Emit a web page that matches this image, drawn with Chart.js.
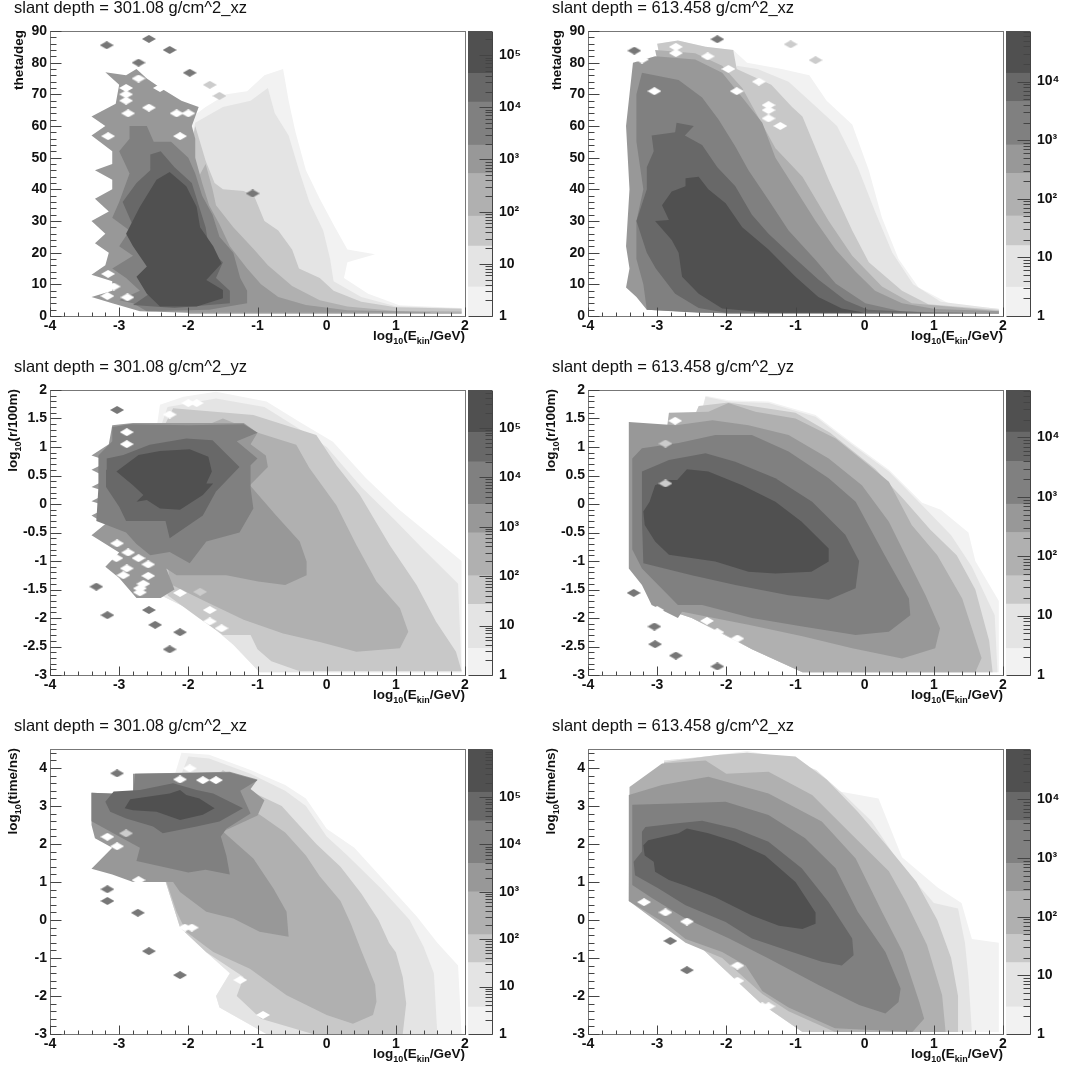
<!DOCTYPE html>
<html>
<head>
<meta charset="utf-8">
<title>slant depth</title>
<script src="https://cdn.jsdelivr.net/npm/chart.js@4"></script>
<style>
  body { margin: 0; background: #fff; width: 1065px; height: 1072px; overflow: hidden; position: relative; }
  canvas { position: absolute; filter: blur(0.6px); }
</style>
</head>
<body>
<script>
const bandColors = ['#f2f2f2', '#e4e4e4', '#c8c8c8', '#b0b0b0', '#989898', '#808080', '#686868', '#505050'];
const xTicks = [-4, -3, -2, -1, 0, 1, 2];
const thetaTicks = [0, 10, 20, 30, 40, 50, 60, 70, 80, 90];
const radiusTicks = [-3, -2.5, -2, -1.5, -1, -0.5, 0, 0.5, 1, 1.5, 2];
const timeTicks = [-3, -2, -1, 0, 1, 2, 3, 4];
const zTicks = [1, 10, 100, 1000, 10000, 100000];
const zLabels = ['1', '10', '10²', '10³', '10⁴', '10⁵'];

const titles = ['slant depth = 301.08 g/cm^2_xz', 'slant depth = 613.458 g/cm^2_xz', 'slant depth = 301.08 g/cm^2_yz',
  'slant depth = 613.458 g/cm^2_yz', 'slant depth = 301.08 g/cm^2_xz', 'slant depth = 613.458 g/cm^2_xz'];

// colour bar band edges
const z1 = [1, 3.6, 22, 82, 537, 1880, 12600, 44700, 290000];
const z2 = [1, 3.1, 15.9, 51, 272, 830, 4570, 13900, 73000];
const z3 = [1, 3.46, 27, 102, 753, 2820, 20500, 80500, 580000];
const z4 = [1, 2.8, 15.7, 47, 251, 752, 3980, 12300, 63000];
const z5 = [1, 3.7, 32, 125, 1000, 3970, 31600, 126000, 1030000];
const z6 = [1, 2.9, 16.5, 50, 270, 810, 4370, 13200, 72500];

// contours, x,y pairs, lightest band first
const p1b1 = [-0.63,78,-0.9,76,-1.15,71,-1.45,70,-1.75,66,-2,62,-2.2,30,-2,1,1.95,0.8,1.95,2.5,1.05,3.4,0.6,7,0.25,12,0.3,17,0.7,19.5,0.3,21,0.12,28,-0.1,37,-0.3,46,-0.45,58,-0.55,68];
const p1b2 = [-0.85,72,-1.1,68,-1.5,66,-1.9,61,-2.2,30,-2,1,1.95,0.9,1.95,2.4,1,3.1,0.5,6,0.1,11,0.05,18,-0.05,27,-0.25,36,-0.4,46,-0.55,57,-0.75,64];
const p1b3 = [-1.9,60,-1.75,49,-1.62,42,-1.5,40,-1.2,39.5,-1.05,38,-0.9,30,-0.7,27,-0.5,21,-0.4,15,-0.1,12,0.1,8,0.5,4.5,1,2.8,1.95,2.3,1.95,0.8,-2,0.8,-2.2,30];
const p1b4 = [-1.75,48,-1.65,40,-1.6,35,-1.35,28,-1.05,21,-0.85,16,-0.5,9.5,-0.1,5,0.3,3,1,1.6,1.95,1.4,1.95,0.7,-2,0.7,-2.2,30];
const p1b5 = [-3.2,77,-3,73,-3.05,67,-3.4,63,-3.2,60,-3.4,57,-3.1,52,-3.1,48,-3.35,46,-3.1,43,-3.1,40,-3.35,37,-3.15,33,-3.4,30,-3.2,26,-3.35,23,-3.15,20,-3.2,16,-3.4,13,-3.1,11,-3.1,8,-3.4,6,-3.1,4,-2.7,1.5,-2,1,1.5,1,1.5,1.2,0.3,1.8,-0.3,3.5,-0.7,6,-0.95,10,-1.15,15,-1.4,22,-1.55,29,-1.7,35,-1.8,42,-1.9,50,-1.9,56,-1.95,60,-1.85,66,-2.1,68,-2.4,72,-2.6,75,-2.75,78,-2.9,76];
const p1b6 = [-2.85,60,-2.6,60,-2.5,55,-2.25,55,-2,50,-1.9,45,-1.8,38,-1.65,32,-1.55,25,-1.35,20,-1.25,12,-1.15,8,-1.15,4,-1.7,2,-2.6,1.5,-2.8,4,-3,5,-2.7,8,-2.9,12,-3.1,15,-2.8,19,-3,22,-2.85,27,-3.1,31,-3,36,-2.85,45,-3,52,-2.85,56];
const p1b7 = [-2.95,36,-2.75,42,-2.55,46,-2.55,51,-2.4,52,-2.2,47,-1.95,42,-1.85,35,-1.75,28,-1.7,21,-1.5,17,-1.6,12,-1.4,8,-1.4,4,-2.2,2.5,-2.8,3.5,-2.5,8,-2.45,15,-2.6,22,-2.75,26];
const p1b8 = [-2.84,35.6,-2.7,34.5,-2.46,43,-2.27,45.5,-2.03,41,-1.88,34.5,-1.83,28,-1.64,22,-1.52,16.6,-1.74,11.4,-1.5,8.2,-1.5,5.6,-1.88,3,-2.41,3,-2.6,7,-2.75,12.4,-2.6,15.6,-2.8,22,-2.9,26,-2.7,34.5];
const p1Spots = [-3.18,85.5,-2.57,87.5,-2.27,84,-2.72,80,-1.98,76.8,-1.07,38.7];
const p1Pale = [-1.69,73,-1.55,69.5];
const p1Holes = [-2.72,75,-2.9,72,-2.9,70,-2.9,68,-2.41,72,-2.87,64,-2.57,65.8,-3.16,56.8,-2.12,56.8,-2.17,64,-2,64,-3.16,13.3,-3.17,6.3,-3.08,9.3,-2.88,5.9];

const p2b1 = [-3,86,-2.7,87,-2.3,85,-1.9,84,-1.7,80,-1.2,78,-0.8,76,-0.55,68,-0.18,60.5,0.06,46,0.25,31,0.49,18,0.78,9,1.26,3.5,1.94,2.4,1.94,0.8,-2,0.8,-2.5,30];
const p2b2 = [-1.85,79,-1.55,78,-1.1,74,-0.75,67,-0.4,60,-0.1,47,0.15,33,0.4,20,0.7,10,1.1,4.5,1.94,2.2,1.94,0.8,-2,0.8,-2.5,30];
const p2b3 = [-3,86,-2.7,87,-2.3,85,-1.9,84,-1.85,78,-1.35,73,-1.05,66,-0.9,63,-0.52,43,-0.18,27,0.06,17,0.54,8,0.92,3.7,1.94,1.9,1.94,0.8,-2,0.8,-2.5,30];
const p2b4 = [-3.03,84,-2.45,83,-2.06,79,-1.77,72,-1.29,53,-0.9,44,-0.52,30,-0.18,19,0.25,9.3,0.68,4,1.94,1.5,1.94,0.7,-2,0.7,-2.5,30];
const p2b5 = [-3.35,80,-3.03,82,-2.45,81,-2.06,76.8,-1.77,69,-1.48,61,-1.29,50,-1,40,-0.71,30,-0.42,21,-0.13,14,0.15,8,0.54,4,1.02,2.2,1.94,1.5,1.94,0.7,-2,0.8,-3.15,2,-3.3,6,-3.45,9,-3.4,15,-3.45,22,-3.4,40,-3.45,60,-3.4,70];
const p2b6 = [-3.22,76.8,-2.69,74.5,-2.35,69,-2.11,62,-1.87,53.5,-1.68,46,-1.39,36.6,-1.1,27,-0.71,17.7,-0.42,10.3,0.01,4,0.54,1.4,1.4,1.1,1.4,0.9,-2.4,1,-3.15,2,-3.2,10,-3.3,18,-3.3,30,-3.2,40,-3.3,55,-3.3,70];
const p2b7 = [-3.08,57,-2.74,58,-2.72,61,-2.47,60,-2.6,57,-2.35,54,-2.13,47,-1.87,41,-1.63,32,-1.39,26,-1.05,19,-0.67,11.5,-0.28,5,0.05,2,1,1,-2,1,-2.4,2.5,-2.74,7,-3.02,15,-3.15,20,-3.3,30,-3.15,40,-3.15,47,-3.05,52];
const p2b8 = [-2.93,35,-2.79,39.3,-2.59,41,-2.59,43.5,-2.4,44,-2.26,40,-2.01,35.6,-1.77,28,-1.39,21,-1,12.4,-0.67,6,-0.33,2.4,0,1,-1.39,1,-2.06,2.4,-2.4,7,-2.64,12.4,-2.69,20,-2.79,24,-3.03,30,-2.83,30.3];
const p2Spots = [-3.33,83.8,-2.13,87.4];
const p2Pale = [-0.71,80.8,-1.07,85.8];
const p2Holes = [-2.73,85,-2.73,83,-2.27,82,-1.97,78,-1.85,71,-3.04,71,-1.39,66.6,-1.39,65,-1.53,74,-1.22,60,-1.39,62.4,-3.22,81];

const p3b1 = [-2.41,1.74,-2.07,1.88,-1.6,1.97,-0.87,1.8,-0.39,1.44,0.09,1.09,0.57,0.45,1.05,-0.1,1.5,-0.55,1.95,-1,1.95,-2.95,-0.97,-2.95,-1.35,-2.47,-1.9,-1.9,-2.4,-1.6,-2.5,1];
const p3b2 = [-2.3,1.7,-1.6,1.85,-0.9,1.7,-0.45,1.36,0,1,0.5,0.3,1,-0.3,1.4,-0.8,1.9,-1.4,1.95,-2.95,-0.97,-2.95,-1.35,-2.47,-1.9,-1.9,-2.4,-1.6,-2.5,1];
const p3b3 = [-2.22,1.68,-1.06,1.56,-0.15,1.21,0.14,0.68,0.48,0.16,0.91,-0.72,1.3,-1.42,1.58,-2.06,1.87,-2.59,1.95,-2.93,-0.4,-2.93,-0.8,-2.76,-1,-2.55,-1.1,-2.3,-1.5,-2.3,-1.85,-2,-2.3,-1.6,-2.5,1];
const p3b4 = [-0.97,1.24,-0.44,1.04,-0.25,0.63,0.14,-0.02,0.43,-0.72,0.72,-1.36,1.06,-1.83,1.18,-2.24,1.06,-2.53,0.43,-2.59,-0.1,-2.42,-0.63,-2.27,-1.2,-2.03,-1.79,-1.69,-2.27,-1.4,-2.3,-1,-2.5,1,-1.5,1.5];
const p3b5 = [-3.1,1.38,-2.8,1.42,-1.2,1.42,-1,1.25,-1.1,1.05,-0.88,0.85,-0.85,0.65,-1.11,0.33,-0.73,-0.2,-0.39,-0.66,-0.29,-1.01,-0.29,-1.25,-0.6,-1.42,-0.99,-1.36,-1.45,-1.25,-2.17,-1.25,-2.32,-1.13,-2.2,-1.5,-2.4,-1.65,-2.75,-1.65,-3,-1.3,-3.2,-1.1,-3,-0.85,-3.4,-0.55,-3.2,-0.35,-3.4,-0.2,-3.15,-0.05,-3.4,0.05,-3.15,0.2,-3.4,0.3,-3.15,0.45,-3.4,0.6,-3.15,0.75,-3.4,0.85,-3.15,1.05];
const p3b6 = [-3.3,0.85,-3.1,1.1,-3.1,1.35,-2.85,1.4,-2,1.38,-1.2,1.4,-1,1.25,-1.3,1.1,-1,0.8,-1.1,0.68,-1.1,0.28,-1.06,-0.08,-1.26,-0.5,-1.74,-0.66,-1.98,-1.04,-2.27,-0.84,-2.55,-0.9,-2.75,-0.7,-2.9,-0.5,-3.33,-0.3,-3.3,0.3];
const p3b7 = [-3.19,0.6,-3.18,0.8,-2.94,0.86,-2.56,1.04,-2.03,1.15,-1.65,1.12,-1.26,0.65,-1.6,0.22,-1.79,-0.2,-2.27,-0.6,-2.33,-0.3,-2.7,-0.3,-2.9,-0.3,-3,-0.05,-3.19,0.3];
const p3b8 = [-3.04,0.57,-2.72,0.86,-2.41,0.93,-1.98,0.96,-1.71,0.83,-1.66,0.57,-1.74,0.36,-1.64,0.36,-1.79,0.16,-2.12,-0.1,-2.41,-0.08,-2.6,0.07,-2.75,0.04,-2.65,0.16,-2.8,0.33];
const p3Spots = [-3.03,1.65,-3.33,-1.45,-3.17,-1.95,-2.57,-1.86,-2.48,-2.12,-2.12,-2.25,-2.27,-2.55];
const p3Pale = [-1.83,-1.54];
const p3Holes = [-2.27,1.57,-2.89,1.26,-2.89,1.05,-3.03,-0.69,-3.04,-0.95,-2.87,-0.85,-2.72,-0.95,-2.58,-1.06,-2.89,-1.13,-2.94,-1.25,-2.58,-1.26,-2.7,-1.48,-2.65,-1.4,-2.7,-1.55,-2.12,-1.56,-1.69,-1.86,-1.69,-2.06,-1.52,-2.18,-1.88,1.77,-2,1.77];

const p4b1 = [-2.3,1.9,-1.97,1.82,-1.39,1.8,-0.71,1.56,-0.18,1.07,0.35,0.6,0.83,0.02,1.1,-0.1,1.5,-0.5,1.6,-1,1.94,-1.7,1.94,-2.95,-0.9,-2.95,-1.63,-2.55,-2.5,-2,-2.7,0];
const p4b2 = [-2.3,1.88,-1.97,1.8,-1.39,1.77,-0.71,1.53,-0.18,1.04,0.35,0.57,0.83,-0.02,1.25,-0.55,1.55,-1.1,1.88,-1.95,1.92,-2.95,-0.9,-2.95,-1.63,-2.55,-2.5,-2,-2.7,0];
const p4b3 = [-2.4,1.72,-1.97,1.78,-1,1.6,-0.5,1.25,0.15,0.62,0.55,0.1,0.95,-0.45,1.33,-0.9,1.6,-1.5,1.8,-2.4,1.85,-2.95,-0.9,-2.95,-1.63,-2.55,-2.5,-2,-3,-1.8,-3,0];
const p4b4 = [-2.83,1.6,-2.26,1.62,-1.97,1.77,-1.58,1.62,-1,1.5,-0.42,1.15,0.06,0.68,0.35,0.39,0.68,-0.37,1.05,-0.9,1.41,-1.66,1.69,-2.7,1.6,-2.95,-0.9,-2.95,-1.63,-2.55,-2.06,-2.26,-2.5,-2,-3,-1.8,-3,0];
const p4b5 = [-3.41,1.44,-2.73,1.38,-2.2,1.47,-1.68,1.38,-1.1,1.21,-0.52,0.8,-0.04,0.33,0.35,-0.31,0.59,-0.9,0.88,-1.6,1.09,-2.18,1.02,-2.53,0.54,-2.71,-0.18,-2.53,-0.9,-2.32,-1.68,-2.12,-2.64,-1.89,-2.7,-2,-3.08,-1.77,-3.22,-1.42,-3.41,-1.13,-3.41,0.8];
const p4b6 = [-3.36,0.8,-3.22,0.98,-2.69,1.07,-2.16,1.21,-1.63,1.21,-1.1,0.92,-0.52,0.45,-0.13,0.04,0.29,-0.9,0.64,-1.66,0.66,-1.95,0.35,-2.24,-0.13,-2.3,-0.9,-2.15,-1.63,-2,-2.35,-1.77,-2.7,-1.77,-3.22,-1.13,-3.36,-0.8];
const p4b7 = [-3.22,0.57,-2.83,0.77,-2.3,0.89,-1.87,0.74,-1.29,0.45,-0.76,0.04,-0.28,-0.54,-0.08,-1,-0.13,-1.48,-0.52,-1.68,-1.1,-1.6,-1.87,-1.42,-2.5,-1.25,-3.2,-1.04,-3.22,-0.3];
const p4b8 = [-3.03,0.33,-2.83,0.42,-2.71,0.42,-2.57,0.61,-2.26,0.57,-1.77,0.33,-1.29,0.04,-0.91,-0.31,-0.52,-0.78,-0.52,-1.01,-0.77,-1.19,-1.29,-1.22,-1.68,-1.19,-2.16,-1.01,-2.83,-0.89,-3.03,-0.66,-3.18,-0.37,-3.2,-0.13,-3.11,0.04];
const p4Spots = [-3.34,-1.56,-3.04,-2.15,-3.03,-2.46,-2.73,-2.66,-2.13,-2.85];
const p4Pale = [-2.88,1.06,-2.88,0.36];
const p4Holes = [-2.74,1.46,-3,-1.86,-2.28,-2.05,-2.13,-2.25,-1.84,-2.36,-1.51,-2.75,-2.59,-2.09,-2.5,-2.09];

const p5b1 = [-2.1,4.4,-1.7,4.35,-1.1,3.95,-0.6,3.55,-0.3,3.2,0,2.4,0.4,1.9,0.9,0.9,1.3,0.1,1.6,-0.6,1.9,-1.2,1.95,-3,-0.87,-3,-1.55,-2.3,-1.6,-2,-1.4,-1.4,-1.74,-0.85,-2.12,-0.2,-2.5,2];
const p5b2 = [-2,4.3,-1.7,4.25,-1.1,3.85,-0.6,3.4,-0.3,3,0,2.2,0.3,1.7,0.8,0.8,1.2,0,1.4,-0.7,1.55,-1.4,1.6,-3,-0.87,-3,-1.55,-2.3,-1.6,-2,-1.4,-1.4,-1.74,-0.85,-2.12,-0.2,-2.5,2];
const p5b3 = [-1.5,3.95,-1,3.3,-0.65,3,-0.45,2.6,-0.15,2,0.2,1.4,0.5,0.7,0.75,0,0.9,-0.6,1,-0.85,1.1,-1.5,1.15,-2.2,1.1,-3,-0.2,-3,-0.95,-2.6,-1.3,-2,-1.2,-1.5,-1.74,-0.85,-2.12,-0.2,-2.5,2];
const p5b4 = [-1.4,3.3,-0.95,2.75,-0.6,2.3,-0.3,1.7,-0.1,1.15,0.2,0.5,0.35,-0.1,0.5,-0.8,0.7,-1.7,0.72,-2.15,0.67,-2.5,0.38,-2.73,0,-2.5,-0.58,-1.98,-1.11,-1.28,-1.64,-0.84,-2.03,-0.31,-2.17,0.22,-2.5,2];
const p5b5 = [-2.8,3.85,-1.4,3.9,-1,3.7,-1.1,3.45,-0.9,3.15,-1,2.75,-1.5,2.33,-1.06,1.62,-0.77,0.83,-0.58,0.22,-0.55,-0.44,-0.97,-0.31,-1.35,0.04,-1.74,0.22,-2.12,0.74,-2.22,1,-2.8,1,-3.1,1.2,-3.4,1.35,-3.1,1.9,-3.35,2.15,-3.4,2.5,-3.4,3.35,-2.8,3.3];
const p5b6 = [-2.77,3.85,-1.4,3.88,-1,3.68,-1.25,3.4,-1.1,2.8,-1.45,2.4,-1.53,2.2,-1.45,1.7,-1.4,1.2,-1.75,1.32,-2,1.25,-2.75,1.55,-2.7,1.9,-2.9,2.1,-3.4,2.6,-3.4,3.35,-2.8,3.3];
const p5b7 = [-3.2,3.11,-3.08,3.38,-2.7,3.42,-2.22,3.6,-1.88,3.42,-1.64,3.33,-1.21,2.94,-1.55,2.59,-1.88,2.46,-2.37,2.28,-2.51,2.46,-2.9,2.67,-3.13,2.85];
const p5b8 = [-2.92,2.94,-2.84,3.18,-2.27,3.33,-2.12,3.42,-2.03,3.29,-1.84,3.2,-1.62,2.94,-1.79,2.77,-2.12,2.63,-2.46,2.85,-2.8,2.89];
const p5Spots = [-3.03,3.86,-3.17,0.81,-3.17,0.5,-2.73,0.19,-2.57,-0.82,-2.12,-1.45];
const p5Pale = [-2.9,2.28];
const p5Holes = [-3.17,2.19,-3.03,1.94,-2.72,1.05,-1.95,-0.2,-2.05,-0.2,-1.25,-1.58,-0.92,-2.5,-2.12,3.7,-1.79,3.68,-1.6,3.68,-1.98,3.99];

const p6b1 = [-2.9,4.2,-2.3,4.3,-1.7,4.45,-1.39,4.35,-0.9,4.05,-0.42,3.4,0.2,3.2,0.54,1.65,1.06,0.85,1.4,0.45,1.55,-0.5,1.94,-0.6,1.94,-2.95,-0.9,-2.95,-1.5,-2.2,-2.5,-0.5,-3,2];
const p6b2 = [-2.9,4.2,-2.3,4.3,-1.7,4.4,-1.2,4.3,-0.7,3.95,-0.3,3.3,0.1,2.6,0.5,1.5,1,0.45,1.35,0.3,1.45,-0.6,1.5,-1.5,1.55,-2.95,-0.9,-2.95,-1.5,-2.2,-2.5,-0.5,-3,2];
const p6b3 = [-2.9,4.15,-2.3,4.3,-2.1,4.35,-1.7,4.4,-1,4.3,-0.55,3.7,-0.1,2.85,0.3,2,0.75,1,1.05,0,1.25,-1,1.35,-2,1.35,-2.95,-0.9,-2.95,-1.5,-2.2,-2.5,-0.5,-3,2];
const p6b4 = [-3.4,3.5,-2.93,4.12,-2.3,4.2,-2,3.85,-1.39,3.9,-0.76,3.29,-0.18,2.24,0.35,1.28,0.6,0.47,0.9,-0.65,1.12,-1.98,1.17,-2.95,-0.43,-2.95,-1.1,-2.4,-1.48,-1.95,-2.06,-1,-2.59,-0.6,-3.41,0.5];
const p6b5 = [-3.41,3.29,-2.93,3.55,-2.26,3.77,-1.39,3.33,-0.62,2.59,-0.13,1.62,0.25,0.22,0.55,-0.84,0.79,-2.16,0.86,-2.6,0.69,-2.95,-0.43,-2.85,-1.1,-2.3,-1.48,-1.87,-1.72,-1.2,-2.06,-0.84,-2.59,-0.5,-2.83,-0.15,-3.41,0.5];
const p6b6 = [-3.36,3.03,-2.64,3.07,-2.01,3.11,-1.39,2.76,-0.86,2.15,-0.42,1.36,-0.1,0.22,0.3,-0.84,0.52,-1.8,0.49,-2.16,0.3,-2.46,-0.08,-2.24,-0.66,-1.72,-1.39,-1.01,-1.96,-0.49,-2.59,0.04,-3.07,0.57,-3.36,0.92];
const p6b7 = [-3.22,2.32,-3.17,2.45,-2.74,2.54,-2.35,2.61,-1.87,2.41,-1.39,2.06,-0.91,1.36,-0.52,0.47,-0.18,-0.49,-0.16,-0.93,-0.33,-1.2,-0.62,-1.1,-1.05,-0.84,-1.63,-0.49,-2.01,-0.05,-2.59,0.39,-2.98,0.83,-3.32,1.18,-3.34,1.53,-3.22,1.8];
const p6b8 = [-3.2,1.97,-3.13,2.1,-2.69,2.28,-2.57,2.41,-2.26,2.28,-1.87,2.06,-1.44,1.7,-1,1,-0.71,0.2,-0.71,-0.1,-0.9,-0.24,-1.24,-0.15,-1.63,0.12,-2.16,0.6,-2.59,0.9,-2.83,1.05,-3.03,1.27,-3.05,1.53,-3.18,1.7];
const p6Spots = [-2.57,-1.32,-2.81,-0.55];
const p6Pale = [];
const p6Holes = [-3.19,0.47,-2.88,0.2,-2.57,-0.04,-1.84,-1.2,-1.84,-1.6,-1.39,-2.27,-1.48,-2.27];

const theta = { min: 0, max: 90, ticks: thetaTicks, minor: 2, title: [['theta/deg', 0]], base: 23 };
const radius = { min: -3, max: 2, ticks: radiusTicks, minor: 0.1, title: [['log', 0], ['10', 1], ['(r/100m)', 0]], base: 17 };
const time = { min: -3, max: 4.5, ticks: timeTicks, minor: 0.2, title: [['log', 0], ['10', 1], ['(time/ns)', 0]], base: 17 };
const energyTitle = [['log', 0], ['10', 1], ['(E', 0], ['kin', 1], ['/GeV)', 0]];

const panels = [
  { y: theta, z: z1, bands: [p1b1, p1b2, p1b3, p1b4, p1b5, p1b6, p1b7, p1b8], spots: p1Spots, pale: p1Pale, holes: p1Holes },
  { y: theta, z: z2, bands: [p2b1, p2b2, p2b3, p2b4, p2b5, p2b6, p2b7, p2b8], spots: p2Spots, pale: p2Pale, holes: p2Holes },
  { y: radius, z: z3, bands: [p3b1, p3b2, p3b3, p3b4, p3b5, p3b6, p3b7, p3b8], spots: p3Spots, pale: p3Pale, holes: p3Holes },
  { y: radius, z: z4, bands: [p4b1, p4b2, p4b3, p4b4, p4b5, p4b6, p4b7, p4b8], spots: p4Spots, pale: p4Pale, holes: p4Holes },
  { y: time, z: z5, bands: [p5b1, p5b2, p5b3, p5b4, p5b5, p5b6, p5b7, p5b8], spots: p5Spots, pale: p5Pale, holes: p5Holes },
  { y: time, z: z6, bands: [p6b1, p6b2, p6b3, p6b4, p6b5, p6b6, p6b7, p6b8], spots: p6Spots, pale: p6Pale, holes: p6Holes }
];

function toPoints(flat) {
  const pts = [];
  for (let i = 0; i < flat.length; i += 2) pts.push({ x: flat[i], y: flat[i + 1] });
  return pts;
}

function diamond(color, w, h) {
  const c = document.createElement('canvas');
  c.width = w;
  c.height = h;
  const g = c.getContext('2d');
  g.fillStyle = color;
  g.beginPath();
  g.moveTo(0, h / 2);
  g.lineTo(w / 2, 0);
  g.lineTo(w, h / 2);
  g.lineTo(w / 2, h);
  g.closePath();
  g.fill();
  return c;
}

function richText(ctx, parts, x, y, angle) {
  ctx.save();
  ctx.translate(x, y);
  ctx.rotate(angle);
  ctx.fillStyle = '#111';
  ctx.textBaseline = 'alphabetic';
  ctx.textAlign = 'left';
  const fonts = ['bold 13.5px "Liberation Sans"', 'bold 9px "Liberation Sans"'];
  let total = 0;
  parts.forEach(p => { ctx.font = fonts[p[1]]; total += ctx.measureText(p[0]).width; });
  let at = -total;
  parts.forEach(p => {
    ctx.font = fonts[p[1]];
    ctx.fillText(p[0], at, p[1] ? 4 : 0);
    at += ctx.measureText(p[0]).width;
  });
  ctx.restore();
}

function line(ctx, x1, y1, x2, y2) {
  ctx.moveTo(x1 + 0.5, y1 + 0.5);
  ctx.lineTo(x2 + 0.5, y2 + 0.5);
}

// frame, inside ticks and axis titles the way the original plot has them
const frame = {
  id: 'frame',
  afterDatasetsDraw(chart, args, opts) {
    const { ctx, chartArea: a, scales } = chart;
    ctx.save();
    ctx.strokeStyle = '#777';
    ctx.lineWidth = 1;
    ctx.strokeRect(Math.round(a.left) + 0.5, Math.round(a.top) + 0.5, Math.round(a.width), Math.round(a.height));
    ctx.strokeStyle = '#444';
    ctx.beginPath();
    for (let k = 0; k <= 30; k++) {
      const v = -4 + k * 0.2;
      const px = Math.round(scales.x.getPixelForValue(v));
      line(ctx, px, a.bottom, px, a.bottom - (k % 5 === 0 ? 9 : 4));
    }
    const ya = opts.axis;
    for (let k = 0; ; k++) {
      const v = ya.min + k * ya.minor;
      if (v > ya.max + 0.001) break;
      const py = Math.round(scales.y.getPixelForValue(v));
      const big = ya.ticks.some(t => Math.abs(t - v) < 0.001);
      line(ctx, a.left, py, a.left + (big ? 11 : 6), py);
    }
    ctx.stroke();
    ctx.fillStyle = '#111';
    ctx.font = '16.5px "Liberation Sans"';
    ctx.textAlign = 'left';
    ctx.textBaseline = 'alphabetic';
    ctx.fillText(opts.title, 14, 13);
    ctx.restore();
    richText(ctx, energyTitle, a.right, a.bottom + 24, 0);
    richText(ctx, ya.title, ya.base, a.top - 1, -Math.PI / 2);
  }
};

const barTicks = {
  id: 'barTicks',
  afterDatasetsDraw(chart) {
    const { ctx, chartArea: a, scales } = chart;
    ctx.save();
    ctx.strokeStyle = '#444';
    ctx.beginPath();
    line(ctx, a.right, a.top, a.right, a.bottom);
    line(ctx, a.left, a.bottom, a.right, a.bottom);
    zTicks.forEach(d => {
      for (let k = 1; k < 10; k++) {
        const v = d * k;
        if (v > scales.y.max) break;
        const py = Math.round(scales.y.getPixelForValue(v));
        line(ctx, a.right, py, a.right - (k === 1 ? 13 : 7), py);
      }
    });
    ctx.stroke();
    ctx.restore();
  }
};

function bandDatasets(p) {
  const sets = [];
  const add = (flat, style, w, h) => {
    if (flat.length) sets.push({
      data: toPoints(flat), showLine: false, pointStyle: diamond(style, w, h), pointRadius: 6, clip: false
    });
  };
  add(p.holes, '#ffffff', 14, 8);
  add(p.spots, '#777777', 14, 8);
  add(p.pale, '#cccccc', 14, 8);
  for (let i = p.bands.length - 1; i >= 0; i--) {
    sets.push({
      data: toPoints(p.bands[i].concat(p.bands[i].slice(0, 2))),
      showLine: true, fill: 'shape', tension: 0, pointRadius: 0, borderWidth: 0,
      backgroundColor: bandColors[i], borderColor: bandColors[i]
    });
  }
  return sets;
}

function addCanvas(left, top, w, h) {
  const c = document.createElement('canvas');
  c.width = w;
  c.height = h;
  c.style.left = left + 'px';
  c.style.top = top + 'px';
  c.style.width = w + 'px';
  c.style.height = h + 'px';
  document.body.appendChild(c);
  return c;
}

panels.forEach((p, n) => {
  const col = n % 2, row = Math.floor(n / 2);
  const left = col * 538, top = row * 359;
  const tickOpts = { color: '#111', font: { family: 'Liberation Sans', weight: 'bold', size: 14 }, autoSkip: false, maxRotation: 0 };
  const noGrid = { display: false, drawTicks: false };

  new Chart(addCanvas(left, top, 480, 350), {
    type: 'scatter',
    data: { datasets: bandDatasets(p) },
    plugins: [frame],
    options: {
      responsive: false,
      animation: false,
      layout: { padding: { top: 31, bottom: 4, right: 15, left: 0 } },
      plugins: { legend: { display: false }, tooltip: { enabled: false }, frame: { axis: p.y, title: titles[n] } },
      scales: {
        x: {
          min: -4, max: 2,
          grid: noGrid, border: { display: false },
          afterBuildTicks(s) { s.ticks = xTicks.map(v => ({ value: v })); },
          afterFit(s) { s.height = 30; },
          ticks: { ...tickOpts, padding: 2, callback: v => String(v) }
        },
        y: {
          min: p.y.min, max: p.y.max,
          grid: noGrid, border: { display: false },
          afterBuildTicks(s) { s.ticks = p.y.ticks.map(v => ({ value: v })); },
          afterFit(s) { s.width = 50; },
          ticks: { ...tickOpts, padding: 3, callback: v => String(v) }
        }
      }
    }
  });

  new Chart(addCanvas(left + 467, top, 64, 350), {
    type: 'bar',
    data: {
      labels: ['z'],
      datasets: bandColors.map((color, i) => ({ data: [[p.z[i], p.z[i + 1]]], backgroundColor: color }))
    },
    plugins: [barTicks],
    options: {
      responsive: false,
      animation: false,
      layout: { padding: { top: 31, bottom: 34, left: 1, right: 0 } },
      datasets: { bar: { grouped: false, barPercentage: 1, categoryPercentage: 1 } },
      plugins: { legend: { display: false }, tooltip: { enabled: false } },
      scales: {
        x: { display: false },
        y: {
          type: 'logarithmic', position: 'right', min: 1, max: p.z[8],
          grid: noGrid, border: { display: false },
          afterBuildTicks(s) { s.ticks = zTicks.filter(v => v <= p.z[8]).map(v => ({ value: v })); },
          afterFit(s) { s.width = 39; },
          ticks: { ...tickOpts, padding: 7, callback: v => zLabels[zTicks.indexOf(v)] }
        }
      }
    }
  });
});
</script>
</body>
</html>
